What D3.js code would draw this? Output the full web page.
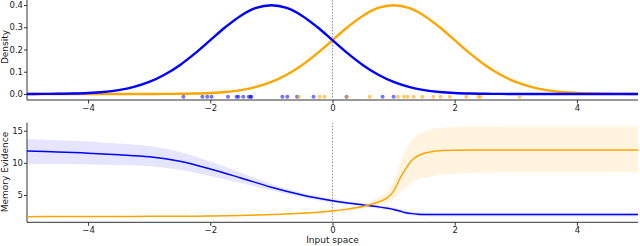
<!DOCTYPE html>
<html><head><meta charset="utf-8">
<script src="https://cdn.jsdelivr.net/npm/d3@7"></script>
<style>body{margin:0;background:#fff}svg{display:block}text{font-family:"DejaVu Sans",sans-serif;fill:#222}</style>
</head><body><svg id="c" width="640" height="246"></svg>
<script>
// ---- data ----
const densX = d3.range(41).map(i => -5 + i * 0.25);
const densBlue = [0.0001,0.0004,0.0009,0.0020,0.0044,0.0091,0.0175,0.0317,0.0540,0.0863,0.1295,0.1826,0.2420,0.3011,0.3521,0.3867,0.3989,0.3867,0.3521,0.3011,0.2420,0.1826,0.1295,0.0863,0.0540,0.0317,0.0175,0.0091,0.0044,0.0020,0.0009,0.0004,0.0001,0,0,0,0,0,0,0,0];
const densOrange = [0,0,0,0,0,0,0,0,0.0001,0.0004,0.0009,0.0020,0.0044,0.0091,0.0175,0.0317,0.0540,0.0863,0.1295,0.1826,0.2420,0.3011,0.3521,0.3867,0.3989,0.3867,0.3521,0.3011,0.2420,0.1826,0.1295,0.0863,0.0540,0.0317,0.0175,0.0091,0.0044,0.0020,0.0009,0.0004,0.0001];
const pointsBlue = [-2.44,-2.13,-2.05,-1.98,-1.71,-1.57,-1.54,-1.46,-1.37,-1.34,-1.33,-0.82,-0.74,-0.58,-0.31,0.23,0.82,1.0];
const pointsOrange = [-0.55,-0.21,-0.13,0.23,0.61,1.07,1.17,1.23,1.33,1.47,1.65,1.77,1.92,2.19,2.39,2.42,3.06];
const evX = [-5,-4.5,-4,-3.5,-3,-2.5,-2,-1.5,-1,-0.5,0,0.25,0.5,0.75,0.9,1.0,1.1,1.2,1.3,1.4,1.5,1.6,1.8,2,2.5,3,4,5];
const blueMean = [11.84,11.7,11.5,11.26,10.95,10.25,9.05,7.65,6.2,5.0,4.1,3.75,3.45,3.15,2.93,2.75,2.5,2.25,2.1,2.02,1.98,1.96,1.95,1.95,1.95,1.95,1.95,1.95];
const blueHi = [13.7,13.5,13.3,13.0,12.6,11.7,10.2,8.45,6.7,5.35,4.4,4.0,3.7,3.4,3.2,3.0,2.8,2.55,2.4,2.3,2.28,2.26,2.25,2.25,2.25,2.25,2.25,2.25];
const blueLo = [9.8,9.8,9.75,9.65,9.45,8.9,7.95,6.85,5.7,4.65,3.8,3.5,3.2,2.9,2.66,2.5,2.2,1.95,1.8,1.72,1.68,1.66,1.65,1.65,1.65,1.65,1.65,1.65];
const orangeMean = [1.63,1.64,1.65,1.66,1.68,1.7,1.72,1.8,1.95,2.15,2.5,2.8,3.2,3.9,4.6,5.6,7.5,9.1,10.4,11.1,11.5,11.7,11.9,11.96,12.0,12.0,12.0,12.0];
const orangeLo = [1.55,1.56,1.57,1.58,1.6,1.62,1.64,1.72,1.86,2.05,2.35,2.6,2.9,3.4,3.85,4.3,5.3,6.2,6.85,7.35,7.65,7.85,8.15,8.3,8.45,8.5,8.5,8.5];
const orangeHi = [1.71,1.72,1.73,1.74,1.76,1.78,1.8,1.9,2.05,2.3,2.7,3.05,3.55,4.6,5.6,7.2,9.7,12.0,13.5,14.4,14.9,15.2,15.45,15.6,15.65,15.7,15.7,15.7];
const xTicks = [-4,-2,0,2,4];
const topTicks = [0.0,0.1,0.2,0.3,0.4];
const botTicks = [5,10,15];
const BLUE = "#0000ff", ORANGE = "#ffa500";

const svg = d3.select("#c");
const x = d3.scaleLinear().domain([-5,5]).range([27,638]);
const yT = d3.scaleLinear().domain([-0.027,0.4225]).range([100,0]);
const yB = d3.scaleLinear().domain([0.75,16.24]).range([222.3,122.7]);
const fmtMinus = s => s.replace("-", "\u2212");

function axes(y, top, bottom, yt, yfmt, ylabel, ylabelY) {
  const gx = svg.append("g").attr("transform", `translate(0,${bottom})`)
    .call(d3.axisBottom(x).tickValues(xTicks).tickSize(3.5).tickPadding(1.5).tickFormat(d => fmtMinus(String(d))));
  gx.select(".domain").attr("d", `M${x(-5)},0H${x(5)}`);
  const gy = svg.append("g").attr("transform", `translate(${x(-5)},0)`)
    .call(d3.axisLeft(y).tickValues(yt).tickSize(3).tickPadding(1).tickFormat(yfmt));
  gy.select(".domain").attr("d", `M0,${top}V${bottom}`);
  [gx, gy].forEach(g => {
    g.selectAll(".domain").attr("stroke", "#333").attr("stroke-width", 1);
    g.selectAll(".tick line").attr("stroke", "#333");
    g.selectAll(".tick text").attr("font-size", 8.5).attr("fill", "#222").style("font-family", '"DejaVu Sans",sans-serif');
  });
  svg.append("text").attr("transform", `translate(5,${ylabelY}) rotate(-90)`)
    .attr("text-anchor", "middle").attr("dominant-baseline", "central").attr("font-size", 9).text(ylabel);
  svg.append("line").attr("x1", x(0)).attr("x2", x(0)).attr("y1", top).attr("y2", bottom)
    .attr("stroke", "#999").attr("stroke-width", 1).attr("stroke-dasharray", "1.5,1.5");
}

// top panel
axes(yT, 0, 100, topTicks, d3.format(".1f"), "Density", 47);
const lineT = arr => d3.line().x((d, i) => x(densX[i])).y(d => yT(d)).curve(d3.curveMonotoneX)(arr);
svg.append("path").attr("d", lineT(densOrange)).attr("fill", "none").attr("stroke", ORANGE).attr("stroke-width", 2.4);
svg.append("path").attr("d", lineT(densBlue)).attr("fill", "none").attr("stroke", BLUE).attr("stroke-width", 2.4);
svg.append("g").selectAll("circle").data(pointsBlue).join("circle")
  .attr("cx", d => x(d)).attr("cy", yT(-0.012)).attr("r", 2).attr("fill", BLUE).attr("fill-opacity", 0.55);
svg.append("g").selectAll("circle").data(pointsOrange).join("circle")
  .attr("cx", d => x(d)).attr("cy", yT(-0.012)).attr("r", 2).attr("fill", ORANGE).attr("fill-opacity", 0.6);

// bottom panel
axes(yB, 122.7, 222.3, botTicks, d3.format("d"), "Memory Evidence", 172);
const cv = d3.curveCatmullRom.alpha(0.5);
const area = (lo, hi) => d3.area().x((d, i) => x(evX[i])).y0((d, i) => yB(lo[i])).y1((d, i) => yB(hi[i])).curve(cv)(evX);
const lineB = arr => d3.line().x((d, i) => x(evX[i])).y(d => yB(d)).curve(cv)(arr);
svg.append("path").attr("d", area(blueLo, blueHi)).attr("fill", BLUE).attr("fill-opacity", 0.1);
svg.append("path").attr("d", area(orangeLo, orangeHi)).attr("fill", ORANGE).attr("fill-opacity", 0.12);
svg.append("path").attr("d", lineB(blueMean)).attr("fill", "none").attr("stroke", BLUE).attr("stroke-width", 1.5);
svg.append("path").attr("d", lineB(orangeMean)).attr("fill", "none").attr("stroke", ORANGE).attr("stroke-width", 1.5);
svg.append("text").attr("x", x(0)).attr("y", 240).attr("text-anchor", "middle").attr("dominant-baseline", "central")
  .attr("font-size", 9).text("Input space");
</script></body></html>
